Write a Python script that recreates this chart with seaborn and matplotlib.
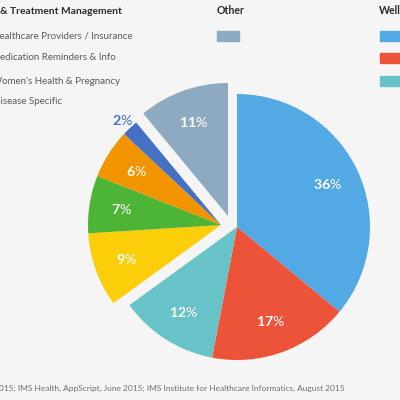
import matplotlib.pyplot as plt
import seaborn as sns
import numpy as np
from matplotlib.patches import Rectangle

categories = ["Fitness", "Lifestyle & Stress", "Diet & Nutrition",
              "Healthcare Providers / Insurance", "Medication Reminders & Info",
              "Women's Health & Pregnancy", "Disease Specific", "Other"]
shares = [36, 17, 12, 9, 7, 6, 2, 11]
groups = ["Wellness"] * 3 + ["Disease & Treatment Management"] * 4 + ["Other"]
colors = ["#52a9e4", "#ec5339", "#67c3c7", "#fccd09", "#4db535", "#f29400", "#4471c3", "#8eaac0"]

bg = "#f6f5f5"
sns.set_theme(style="white")
plt.rcParams["font.family"] = ["Lato", "DejaVu Sans"]
plt.rcParams["mathtext.fontset"] = "custom"
plt.rcParams["mathtext.rm"] = "Lato"
plt.rcParams["mathtext.bf"] = "Lato:bold"

fig = plt.figure(figsize=(4, 4), dpi=100, facecolor=bg)
ax = fig.add_axes([0, 0, 1, 1])
ax.set_facecolor(bg)

# pixel layout, y up
cx, cy, R = 237, 173, 133
offsets = {"Wellness": (0, 0),
           "Disease & Treatment Management": (-16, 2),
           "Other": (-9, 11)}

for grp, (dx, dy) in offsets.items():
    cols = [c if g == grp else "none" for c, g in zip(colors, groups)]
    gx, gy = cx + dx, cy + dy
    wedges, _ = ax.pie(shares, colors=cols, startangle=90, counterclock=False,
                       radius=R, center=(gx, gy), wedgeprops=dict(linewidth=0))
    for w, s, g, c in zip(wedges, shares, groups, colors):
        if g != grp:
            continue
        ang = np.deg2rad((w.theta1 + w.theta2) / 2)
        f, tc = (1.08, c) if s < 5 else (0.755, "white")
        ax.text(gx + f * R * np.cos(ang), gy + f * R * np.sin(ang),
                r"$\mathbf{%d}$%%" % s, color=tc, fontsize=10.3,
                ha="center", va="center")

ax.set_xlim(0, 400)
ax.set_ylim(0, 400)
ax.set_aspect("equal")
ax.axis("off")

# legend block (cropped at image edges like the source)
ax.text(122, 389, "Disease & Treatment Management", ha="right", va="center",
        fontsize=7.4, fontweight="bold", color="#2b2b2b")
item_right = [133, 116, 120, 62]
item_y = [364, 342, 319, 298]
for name, xr, yy in zip(categories[3:7], item_right, item_y):
    ax.text(xr, yy, name, ha="right", va="center", fontsize=7.0, color="#5a5a5a")

ax.text(217, 389, "Other", ha="left", va="center", fontsize=7.6,
        fontweight="bold", color="#2b2b2b")
ax.add_patch(Rectangle((217, 359), 22, 10, color=colors[7], clip_on=False))

ax.text(379, 389, "Wellness", ha="left", va="center", fontsize=7.6,
        fontweight="bold", color="#2b2b2b", clip_on=False)
for c, yy in zip(colors[:3], [359, 337, 314]):
    ax.add_patch(Rectangle((380, yy), 22, 10, color=c, clip_on=False))

ax.text(345, 12, "2015; IMS Health, AppScript, June 2015; IMS Institute for Healthcare Informatics, August 2015",
        ha="right", va="center", fontsize=6.0, color="#6f6f6f")

fig.savefig("out.png", dpi=100, facecolor=bg)
